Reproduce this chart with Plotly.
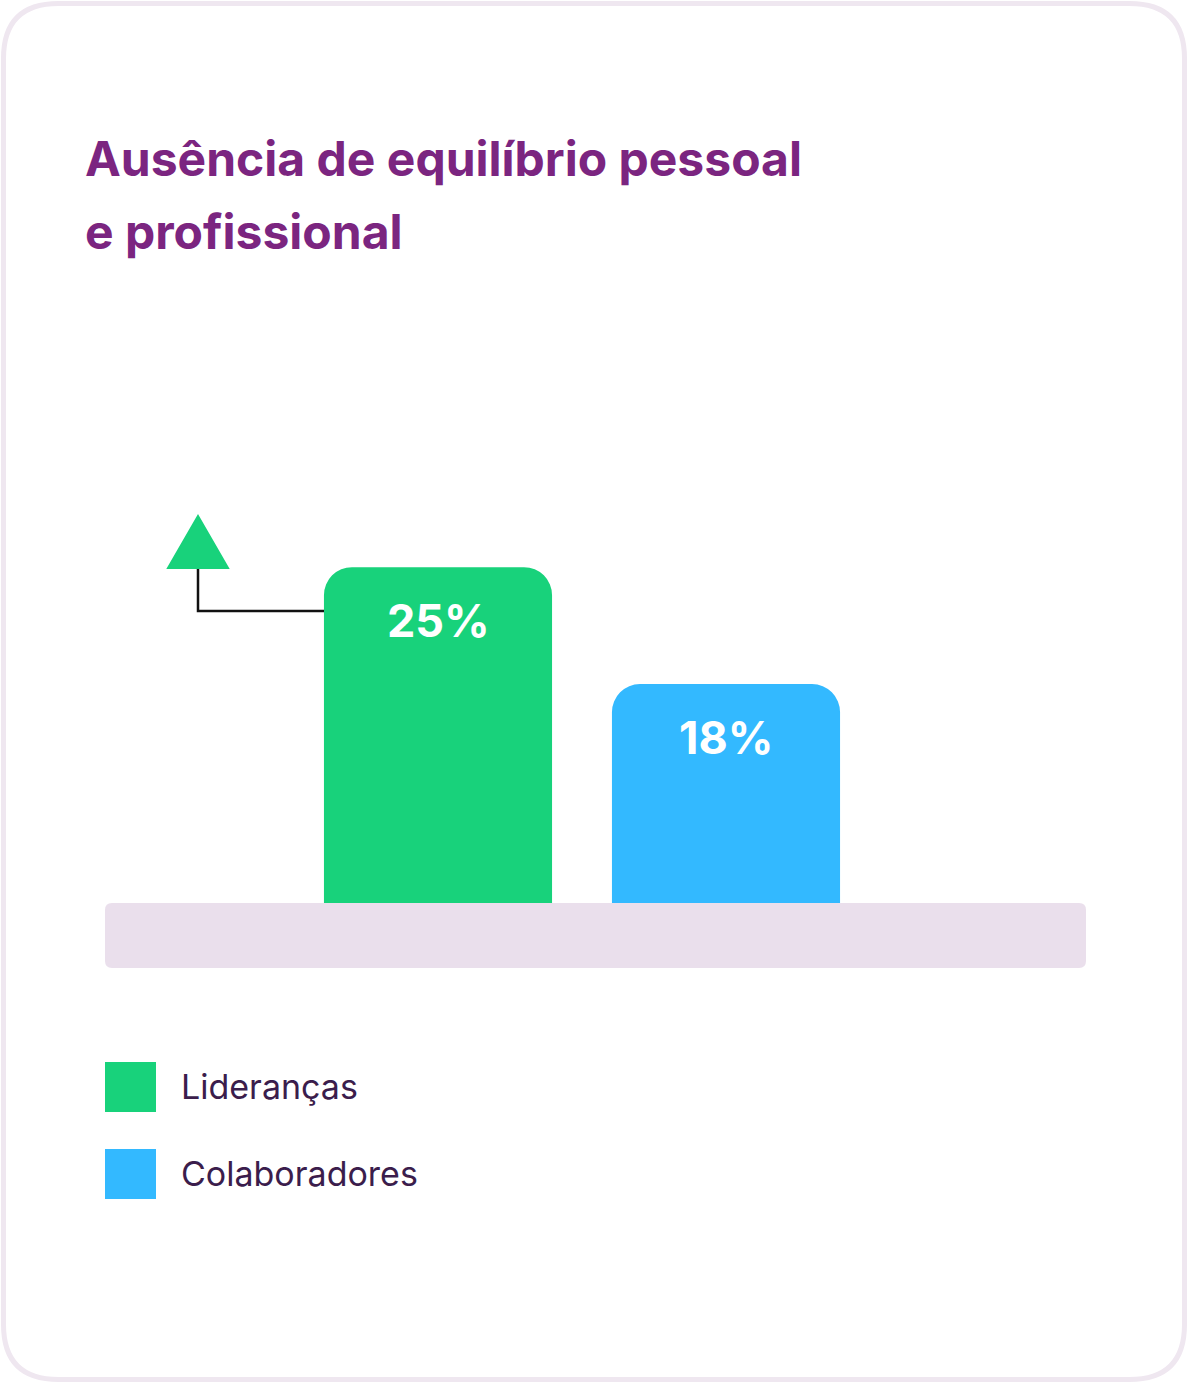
import plotly.graph_objects as go

W, H = 1188, 1383

categories = ['Lideranças', 'Colaboradores']
values = [25, 18]
colors = ['#18D27B', '#33B9FF']
labels = ['25%', '18%']
title_lines = ['Ausência de equilíbrio pessoal', 'e profissional']

FONT = 'Inter, Lato, sans-serif'


def px(x):
    return x / W


def py(y):
    return 1 - y / H


def rounded_rect(x0, y0, x1, y1, r):
    # path in paper coords, input in pixels (y down)
    pts = [
        'M {} {}'.format(px(x0 + r), py(y0)),
        'L {} {}'.format(px(x1 - r), py(y0)),
        'Q {} {} {} {}'.format(px(x1), py(y0), px(x1), py(y0 + r)),
        'L {} {}'.format(px(x1), py(y1 - r)),
        'Q {} {} {} {}'.format(px(x1), py(y1), px(x1 - r), py(y1)),
        'L {} {}'.format(px(x0 + r), py(y1)),
        'Q {} {} {} {}'.format(px(x0), py(y1), px(x0), py(y1 - r)),
        'L {} {}'.format(px(x0), py(y0 + r)),
        'Q {} {} {} {}'.format(px(x0), py(y0), px(x0 + r), py(y0)),
        'Z',
    ]
    return ' '.join(pts)


fig = go.Figure()
fig.add_trace(go.Bar(
    x=categories, y=values, marker=dict(color=colors, cornerradius=28, line=dict(width=0)),
    width=0.792, showlegend=False, hoverinfo='skip',
))

shapes = []
# card border
shapes.append(dict(type='path', xref='paper', yref='paper', path=rounded_rect(3.5, 3.5, 1184.5, 1379.5, 55),
                   line=dict(color='#EFE7F0', width=5), fillcolor='rgba(0,0,0,0)', layer='below'))
# baseline bar
shapes.append(dict(type='path', xref='paper', yref='paper', path=rounded_rect(105, 903, 1086, 968, 7),
                   line=dict(width=0), fillcolor='#EADFEC', layer='below'))
# connector line
shapes.append(dict(type='path', xref='paper', yref='paper',
                   path='M {} {} L {} {} L {} {}'.format(px(198), py(566), px(198), py(611), px(324), py(611)),
                   line=dict(color='#111111', width=2.5), fillcolor='rgba(0,0,0,0)'))
# up triangle
shapes.append(dict(type='path', xref='paper', yref='paper',
                   path='M {} {} L {} {} L {} {} Z'.format(px(198), py(516), px(228), py(568), px(168), py(568)),
                   line=dict(color='#18D27B', width=2, ), fillcolor='#18D27B'))

annotations = []
for i, line in enumerate(title_lines):
    annotations.append(dict(xref='paper', yref='paper', x=px(83), y=py(158 + 73 * i), xanchor='left', yanchor='middle',
                            text='<b>{}</b>'.format(line), showarrow=False,
                            font=dict(family=FONT, size=48, color='#7B2580')))
for c, v, t in zip(categories, values, labels):
    annotations.append(dict(x=c, y=v, yshift=-53, xanchor='center', yanchor='middle', text='<b>{}</b>'.format(t),
                            showarrow=False, font=dict(family=FONT, size=45, color='white')))
for i, (c, col) in enumerate(zip(categories, colors)):
    top = 1062 + 87 * i
    shapes.append(dict(type='rect', xref='paper', yref='paper', x0=px(105), x1=px(156), y0=py(top), y1=py(top + 50),
                       line=dict(width=0), fillcolor=col))
    annotations.append(dict(xref='paper', yref='paper', x=px(179), y=py(top + 24), xanchor='left', yanchor='middle',
                            text=c, showarrow=False, font=dict(family=FONT, size=34, color='#3B1D4C')))

fig.update_layout(
    width=W, height=H, margin=dict(l=0, r=0, t=0, b=0),
    paper_bgcolor='white', plot_bgcolor='rgba(0,0,0,0)',
    xaxis=dict(domain=[px(105), px(1086)], range=[-1.15625, 2.25], visible=False, type='category'),
    yaxis=dict(domain=[py(903), py(400)], range=[4.904, 35.0], visible=False),
    shapes=shapes, annotations=annotations,
)

# page body has a default 8px margin, drop it so the card sits at the window edge
fig.write_html("out.html", config={'displayModeBar': False},
               post_script="document.body.style.margin='0';")
